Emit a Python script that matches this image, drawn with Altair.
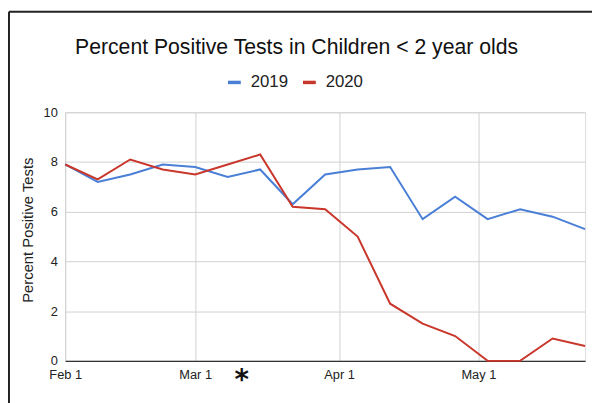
import altair as alt
import pandas as pd

dates = ["2019-02-01", "2019-02-08", "2019-02-15", "2019-02-22", "2019-03-01",
         "2019-03-08", "2019-03-15", "2019-03-22", "2019-03-29", "2019-04-05",
         "2019-04-12", "2019-04-19", "2019-04-26", "2019-05-03", "2019-05-10",
         "2019-05-17", "2019-05-24"]
pct_2019 = [7.9, 7.2, 7.5, 7.9, 7.8, 7.4, 7.7, 6.3, 7.5, 7.7, 7.8, 5.7, 6.6, 5.7, 6.1, 5.8, 5.3]
pct_2020 = [7.9, 7.3, 8.1, 7.7, 7.5, 7.9, 8.3, 6.2, 6.1, 5.0, 2.3, 1.5, 1.0, 0.0, 0.0, 0.9, 0.6]
series = ["2019", "2020"]
colors = ["#4a7fd6", "#c9372c"]
tick_dates = ["2019-02-01", "2019-03-01", "2019-04-01", "2019-05-01"]
marker_date = ["2019-03-11"]

rows = []
for s, vals in zip(series, [pct_2019, pct_2020]):
    for d, v in zip(dates, vals):
        rows.append({"date": d, "year": s, "pct": v})
df = pd.DataFrame(rows)

font = "Liberation Sans"

x_enc = alt.X(
    "date:T",
    scale=alt.Scale(type="utc", domain=[dates[0], dates[-1]], nice=False),
    axis=alt.Axis(
        title=None,
        values=[alt.DateTime(year=int(t[:4]), month=int(t[5:7]), date=int(t[8:]), utc=True) for t in tick_dates],
        labelExpr="utcFormat(datum.value, '%b %-d')",
        labelFont=font, labelFontSize=13, labelColor="#222", labelFlush=False,
        labelPadding=8, ticks=False, domain=True, domainColor="#333", domainWidth=1.5,
        grid=True, gridColor="#d0d0d0", labelAngle=0,
    ),
)

lines = alt.Chart(df).mark_line(strokeWidth=2).encode(
    x=x_enc,
    y=alt.Y(
        "pct:Q",
        scale=alt.Scale(domain=[0, 10], nice=False),
        axis=alt.Axis(
            title="Percent Positive Tests",
            values=[0, 2, 4, 6, 8, 10],
            labelFont=font, labelFontSize=13, labelColor="#222", labelPadding=8,
            ticks=False, domain=False, grid=True, gridColor="#d0d0d0",
            titleFont=font, titleFontSize=15, titleFontWeight="normal", titleColor="#222",
            titleX=-33, titleY=119, titleBaseline="alphabetic", titleAngle=-90, titleAlign="center",
        ),
    ),
    color=alt.Color(
        "year:N",
        scale=alt.Scale(domain=series, range=colors),
        legend=alt.Legend(
            title=None, orient="none", direction="horizontal",
            legendX=163, legendY=-39, symbolType="stroke", symbolSize=169,
            symbolStrokeWidth=3.5, labelFont=font, labelFontSize=17, labelColor="#222",
            labelOffset=8, columnPadding=8, padding=0,
        ),
    ),
)

star = alt.Chart(pd.DataFrame({"date": marker_date, "label": ["*"]})).mark_text(
    font="DejaVu Sans", fontSize=28, fontWeight="bold", color="#111", baseline="alphabetic", align="center"
).encode(x=alt.X("date:T"), y=alt.value(281), text="label:N")

frame_data = alt.Data(values=[{}])
frame_top = alt.Chart(frame_data).mark_rule(color="#222", strokeWidth=2).encode(
    x=alt.value(-57), x2=alt.value(545), y=alt.value(-102)
)
frame_left = alt.Chart(frame_data).mark_rule(color="#222", strokeWidth=2).encode(
    x=alt.value(-57), y=alt.value(-102), y2=alt.value(300)
)

chart = alt.layer(lines, star, frame_top, frame_left).properties(
    width=527, height=252,
    title=alt.TitleParams(
        "Percent Positive Tests in Children < 2 year olds",
        font=font, fontSize=21.5, fontWeight="normal", color="#111",
        anchor="middle", dx=-29, offset=-65, baseline="alphabetic",
    ),
    autosize=alt.AutoSizeParams(type="none"),
    padding={"left": 58, "top": 103, "right": 7, "bottom": 40},
).configure_view(stroke=None).configure(background="white")

chart.save("out.html", embed_options={"renderer": "svg", "actions": False})
